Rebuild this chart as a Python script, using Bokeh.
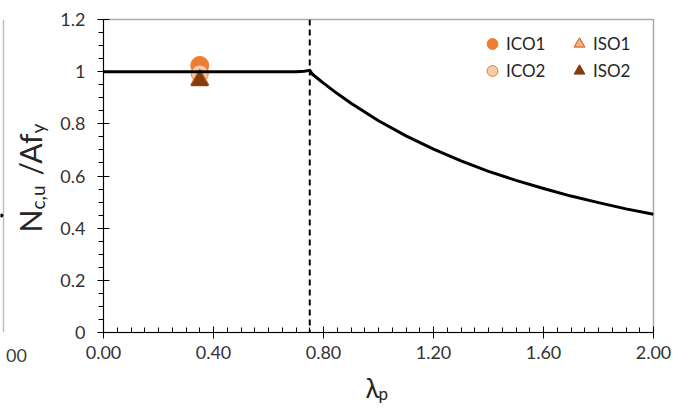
from bokeh.plotting import figure
from bokeh.layouts import row, column
from bokeh.models import (Range1d, FixedTicker, NumeralTickFormatter, Span,
                          Legend, LegendItem)
from bokeh.core.properties import value
from bokeh.embed import file_html
from bokeh.resources import INLINE

FONT = "Lato"

# Design curve: normalised capacity N_c,u / A f_y against plate slenderness
lam_curve = [0.00, 0.70, 0.73, 0.75, 0.76, 0.78, 0.80, 0.85, 0.90, 1.00, 1.10,
             1.20, 1.30, 1.40, 1.50, 1.60, 1.70, 1.80, 1.90, 2.00]
ratio_curve = [1.000, 1.000, 1.002, 1.005, 0.990, 0.973, 0.956, 0.916, 0.879,
               0.812, 0.754, 0.703, 0.658, 0.618, 0.583, 0.552, 0.523, 0.498,
               0.474, 0.453]

# Slenderness limit (dashed vertical)
lam_limit = 0.75

# Test results
series_names = ["ICO1", "ICO2", "ISO1", "ISO2"]
series_lam = [0.35, 0.35, 0.35, 0.35]
series_ratio = [1.024, 0.993, 0.970, 0.965]

# Axis ticks
x_ticks = [0.0, 0.4, 0.8, 1.2, 1.6, 2.0]
x_minor = [round(0.05 * i, 2) for i in range(41)]
y_ticks = [0.0, 0.2, 0.4, 0.6, 0.8, 1.0, 1.2]
y_minor = [round(0.05 * i, 2) for i in range(25)]

# page geometry (pixels)
PAGE_W, PAGE_H = 688, 418
LEFT_W = 55            # strip holding the y title and the neighbouring panel edge
BOTTOM_H = 45          # strip holding the x title
FRAME_L, FRAME_R, FRAME_T, FRAME_B = 103, 653, 19, 332

MAIN_W = PAGE_W - LEFT_W
MAIN_H = PAGE_H - BOTTOM_H

p = figure(width=MAIN_W, height=MAIN_H, x_range=Range1d(0, 2), y_range=Range1d(0, 1.2),
           output_backend="svg", toolbar_location=None,
           min_border_left=FRAME_L - LEFT_W, min_border_right=PAGE_W - FRAME_R,
           min_border_top=FRAME_T, min_border_bottom=MAIN_H - FRAME_B)
p.grid.visible = False
p.outline_line_color = "#ABABAB"
p.outline_line_width = 1.5

for ax in (p.xaxis[0], p.yaxis[0]):
    ax.axis_line_color = "black"
    ax.major_tick_line_color = "black"
    ax.minor_tick_line_color = "black"
    ax.major_label_text_font = FONT
    ax.major_label_text_font_size = "18px"
    ax.major_label_text_color = "#333333"

p.xaxis.ticker = FixedTicker(ticks=x_ticks, minor_ticks=x_minor)
p.xaxis.formatter = NumeralTickFormatter(format="0.00")
p.xaxis.major_tick_in = 6
p.xaxis.major_tick_out = 6
p.xaxis.minor_tick_in = 5
p.xaxis.minor_tick_out = 0
p.xaxis.major_label_standoff = 7

p.yaxis.ticker = FixedTicker(ticks=y_ticks, minor_ticks=y_minor)
p.yaxis.formatter = NumeralTickFormatter(format="0.[0]")
p.yaxis.major_tick_in = 6
p.yaxis.major_tick_out = 6
p.yaxis.minor_tick_in = 0
p.yaxis.minor_tick_out = 5
p.yaxis.major_label_standoff = 12

# test-result markers
styles = {
    "ICO1": dict(marker="circle", size=18, fill_color="#ED7D31", line_color="#ED7D31"),
    "ICO2": dict(marker="circle", size=17, fill_color="#F8CBAD", line_color="#ED7D31"),
    "ISO1": dict(marker="triangle", size=18, fill_color="#F4B183", line_color="#C55A11"),
    "ISO2": dict(marker="triangle", size=17, fill_color="#843C0C", line_color="#843C0C"),
}
renderers = {}
for name, lx, ly in zip(series_names, series_lam, series_ratio):
    renderers[name] = p.scatter(x=[lx], y=[ly], line_width=1, **styles[name])

p.add_layout(Span(location=lam_limit, dimension="height", line_color="black",
                  line_width=2, line_dash="6 4"))
p.line(lam_curve, ratio_curve, line_color="black", line_width=3, line_join="round")

legend = Legend(items=[LegendItem(label=n, renderers=[renderers[n]]) for n in series_names],
                location=(375, 248), orientation="vertical", nrows=2,
                glyph_width=28, glyph_height=27, label_height=27, label_width=59,
                label_standoff=0, spacing=0, padding=0, margin=0,
                label_text_font=FONT, label_text_font_size="17px",
                label_text_color="#262626",
                background_fill_alpha=0, border_line_alpha=0)
p.add_layout(legend)

title_font = value(FONT)
title_color = "#262626"

# left strip: y title (N_c,u /Af_y) and the edge of the neighbouring panel
pl = figure(width=LEFT_W, height=PAGE_H, x_range=Range1d(0, LEFT_W),
            y_range=Range1d(FRAME_B, FRAME_T),
            output_backend="svg", toolbar_location=None,
            min_border_left=0, min_border_right=0,
            min_border_top=FRAME_T, min_border_bottom=PAGE_H - FRAME_B,
            x_axis_location="below", y_axis_location=None)
pl.outline_line_color = None
pl.grid.visible = False
pl.xaxis.ticker = FixedTicker(ticks=[5])
pl.xaxis.major_label_overrides = {5: "00"}
pl.xaxis.axis_line_color = None
pl.xaxis.major_tick_line_color = None
pl.xaxis.minor_tick_line_color = None
pl.xaxis.major_label_standoff = 10
pl.xaxis.major_label_text_font = FONT
pl.xaxis.major_label_text_font_size = "18px"
pl.xaxis.major_label_text_color = "#404040"

pl.segment(x0=[3], y0=[FRAME_T], x1=[3], y1=[FRAME_B], line_color="#BFBFBF", line_width=1.5)
pl.scatter(x=[1], y=[215], size=3, color="black")

rot = 1.5707963267948966
big, small = "30px", "19px"
pl.text(x=[29], y=[232], text=["N"], angle=rot, text_font=title_font,
        text_font_size=big, text_align="left", text_baseline="alphabetic",
        text_color=title_color)
pl.text(x=[37], y=[209], text=["c,u"], angle=rot, text_font=title_font,
        text_font_size=small, text_align="left", text_baseline="alphabetic",
        text_color=title_color)
pl.text(x=[29], y=[175], text=["/Af"], angle=rot, text_font=title_font,
        text_font_size=big, text_align="left", text_baseline="alphabetic",
        text_color=title_color)
pl.text(x=[37], y=[133], text=["y"], angle=rot, text_font=title_font,
        text_font_size=small, text_align="left", text_baseline="alphabetic",
        text_color=title_color)

# bottom strip: x title (lambda_p)
pb = figure(width=MAIN_W, height=BOTTOM_H, x_range=Range1d(FRAME_L, FRAME_R),
            y_range=Range1d(PAGE_H, MAIN_H),
            output_backend="svg", toolbar_location=None,
            min_border_left=FRAME_L - LEFT_W, min_border_right=PAGE_W - FRAME_R,
            min_border_top=0, min_border_bottom=0,
            x_axis_location=None, y_axis_location=None)
pb.outline_line_color = None
pb.grid.visible = False
pb.text(x=[365], y=[387], text=["λ"], text_font=title_font, text_font_size="26px",
        text_align="left", text_baseline="alphabetic", text_color=title_color)
pb.text(x=[378], y=[393], text=["p"], text_font=title_font, text_font_size="17px",
        text_align="left", text_baseline="alphabetic", text_color=title_color)

layout = row(pl, column(p, pb, spacing=0), spacing=0)
open("out.html", "w").write(file_html(layout, INLINE))
